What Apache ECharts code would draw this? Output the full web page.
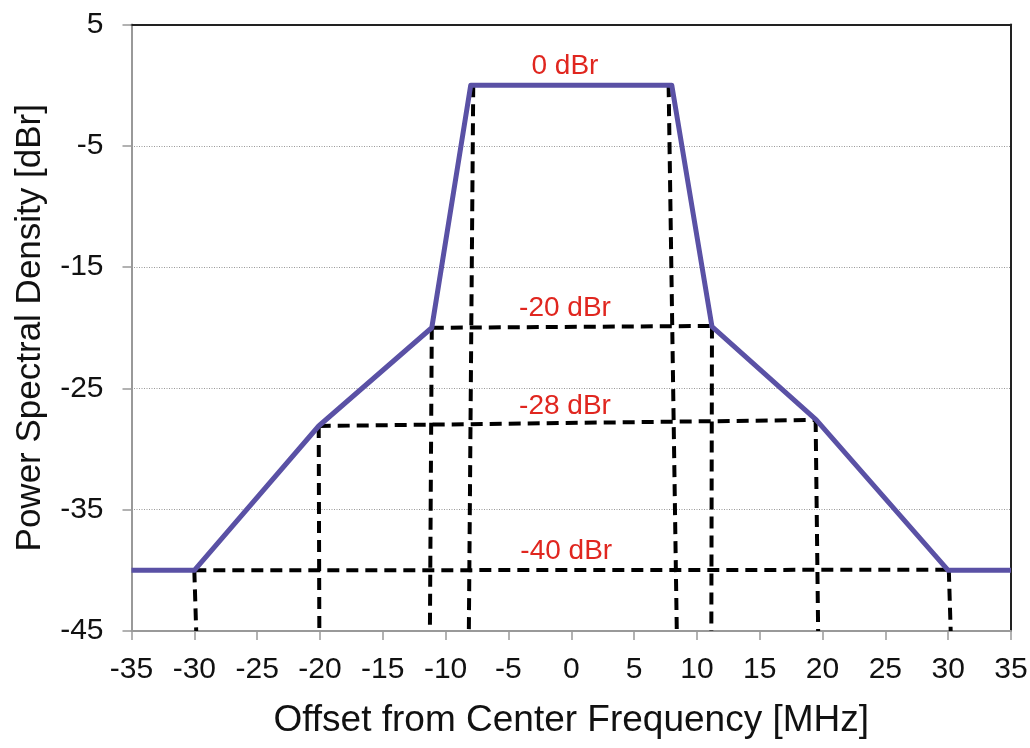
<!DOCTYPE html>
<html>
<head>
<meta charset="utf-8">
<title>Spectral mask</title>
<script src="https://cdn.jsdelivr.net/npm/echarts@6/dist/echarts.min.js"></script>
<style>
  html, body { margin: 0; padding: 0; background: #fff; }
  #chart { width: 1030px; height: 748px; }
</style>
</head>
<body>
<div id="chart"></div>
<script>
// Axis ranges and tick values
const xTicks = [-35, -30, -25, -20, -15, -10, -5, 0, 5, 10, 15, 20, 25, 30, 35];
const yTicks = [-45, -35, -25, -15, -5, 5];

// Transmit spectrum mask outline: [offset MHz, dBr]
const maskOutline = [
  [-35, -40], [-30, -40], [-20.1, -28.1], [-11.1, -20], [-8, 0],
  [8, 0], [11.2, -19.9], [19.5, -27.6], [30, -40], [35, -40]
];

// Dashed construction lines: [x0, y0, x1, y1]
const levelLines = [
  [-11.1, -20, 11.2, -19.85],
  [-20.1, -28.1, 19.5, -27.6],
  [-30, -40, 30, -39.95]
];
const dropLines = [
  [-30, -40, -29.85, -45],
  [-20.1, -28.1, -20.05, -45],
  [-11.1, -20, -11.25, -45],
  [-7.8, 0, -8.15, -45],
  [7.75, 0, 8.4, -45],
  [11.2, -19.9, 11.15, -45],
  [19.45, -27.6, 19.65, -45],
  [30.05, -39.95, 30.2, -45]
];

// Level annotations: [x, dBr, text]
const levelLabels = [
  [-0.5, 0, '0 dBr'],
  [-0.5, -20, '-20 dBr'],
  [-0.5, -28, '-28 dBr'],
  [-0.4, -40, '-40 dBr']
];

const FONT = '"Liberation Sans", Arial, sans-serif';
const dashStyle = { color: '#000', width: 4, type: [12, 7] };

const series = [];
levelLines.concat(dropLines).forEach(function (s) {
  series.push({
    type: 'line',
    data: [[s[0], s[1]], [s[2], s[3]]],
    symbol: 'none',
    lineStyle: dashStyle,
    silent: true,
    z: 2
  });
});
series.push({
  type: 'line',
  data: maskOutline,
  symbol: 'none',
  lineStyle: { color: '#5a51a5', width: 5, join: 'round' },
  z: 3
});
series.push({
  type: 'scatter',
  data: levelLabels.map(function (d) { return { value: [d[0], d[1]], name: d[2] }; }),
  symbolSize: 0,
  itemStyle: { opacity: 1 },
  label: {
    show: true,
    position: 'top',
    distance: 5,
    opacity: 1,
    formatter: function (p) { return p.name; },
    color: '#e0261f',
    fontSize: 28,
    fontFamily: FONT
  },
  z: 4
});

const chart = echarts.init(document.getElementById('chart'));
chart.setOption({
  backgroundColor: '#fff',
  animation: false,
  grid: { left: 131.5, right: 19, top: 24.5, bottom: 117, containLabel: false, outerBoundsMode: 'none' },
  xAxis: [{
    type: 'value',
    min: xTicks[0],
    max: xTicks[xTicks.length - 1],
    interval: 5,
    name: 'Offset from Center Frequency [MHz]',
    nameLocation: 'middle',
    nameGap: 71,
    nameTextStyle: { fontSize: 37, color: '#111', fontFamily: FONT },
    axisLine: { show: true, onZero: false, lineStyle: { color: '#999', width: 2 } },
    axisTick: { show: true, inside: false, length: 9, lineStyle: { color: '#999', width: 1.5 } },
    axisLabel: { fontSize: 30, color: '#111', fontFamily: FONT, margin: 24 },
    splitLine: { show: false }
  }, {
    type: 'value',
    position: 'top',
    min: xTicks[0],
    max: xTicks[xTicks.length - 1],
    axisLine: { show: true, onZero: false, lineStyle: { color: '#222', width: 2 } },
    axisTick: { show: false },
    axisLabel: { show: false },
    splitLine: { show: false }
  }],
  yAxis: [{
    type: 'value',
    min: yTicks[0],
    max: yTicks[yTicks.length - 1],
    name: 'Power Spectral Density [dBr]',
    nameLocation: 'middle',
    nameGap: 84,
    nameTextStyle: { fontSize: 35, color: '#111', fontFamily: FONT },
    axisLine: { show: true, onZero: false, lineStyle: { color: '#999', width: 2 } },
    axisTick: { show: true, inside: false, length: 9, customValues: yTicks, lineStyle: { color: '#999', width: 1.5 } },
    axisLabel: { fontSize: 30, color: '#111', fontFamily: FONT, margin: 28, customValues: yTicks },
    splitLine: { show: true, lineStyle: { color: '#999', width: 1, type: [1, 1.5] } }
  }, {
    type: 'value',
    position: 'right',
    min: yTicks[0],
    max: yTicks[yTicks.length - 1],
    axisLine: { show: true, onZero: false, lineStyle: { color: '#222', width: 2 } },
    axisTick: { show: false },
    axisLabel: { show: false },
    splitLine: { show: false }
  }],
  series: series
});
</script>
</body>
</html>
